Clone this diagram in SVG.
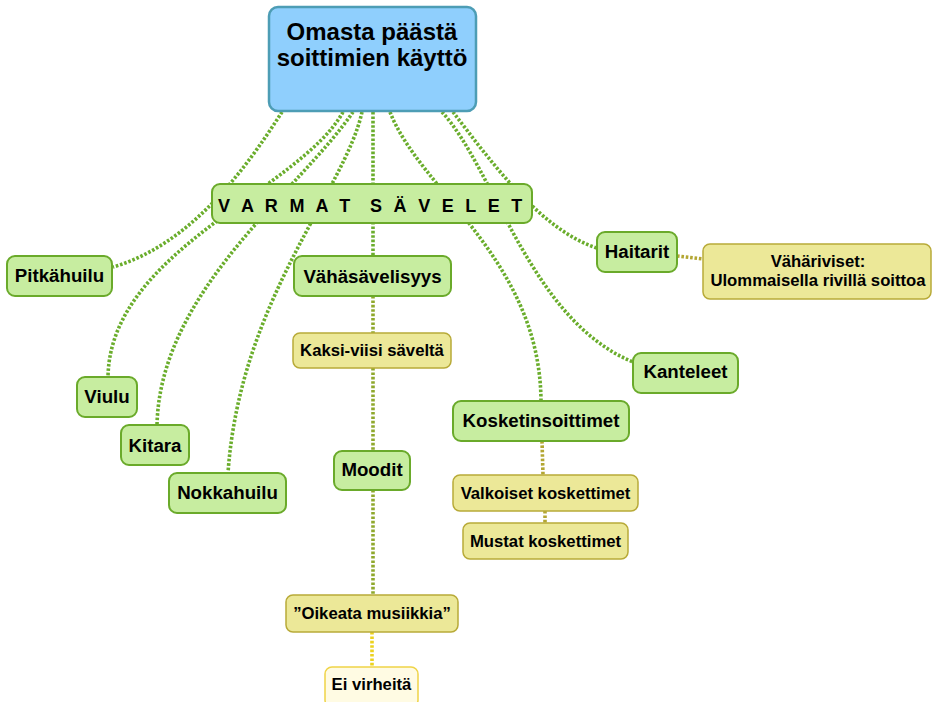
<svg xmlns="http://www.w3.org/2000/svg" width="932" height="702" viewBox="0 0 932 702">
<style>
text{font-family:"Liberation Sans",Arial,sans-serif;font-weight:bold;fill:#000;text-anchor:middle}
.g rect{fill:#c7eda0;stroke:#6aaa2a;stroke-width:2}
.y rect{fill:#ece898;stroke:#b8aa38;stroke-width:1.5}
.lbl{font-size:18.7px}
.sm{font-size:16.7px}
.c{fill:none;stroke-width:3.6;stroke-dasharray:2.6 1.8}
.cg{stroke:#6aad2c}
.cm{stroke:#8fa82c}
.co{stroke:#b3a632}
.cy{stroke:#ecd21e}
</style>
<rect width="932" height="702" fill="#fff"/>
<g id="connectors">
<path class="c cg" d="M282,112 C245,170 190,245 113,267"/>
<path class="c cg" d="M343,112 C300,190 110,250 108,377"/>
<path class="c cg" d="M353,112 C300,190 160,290 157,425"/>
<path class="c cg" d="M362,112 C345,190 240,300 228,473"/>
<path class="c cg" d="M373,112 L373,256"/>
<path class="c cg" d="M390,112 C420,190 540,260 541,401"/>
<path class="c cg" d="M442,112 C495,170 530,320 633,362"/>
<path class="c cg" d="M453,112 C490,160 540,230 597,248"/>
<path class="c cm" d="M373,296 L373,333"/>
<path class="c cm" d="M373,368 L373,451"/>
<path class="c cm" d="M373,490 L373,595"/>
<path class="c cy" d="M372,632 L372,667"/>
<path class="c co" d="M542,441 L543,475"/>
<path class="c co" d="M545,511 L545,523"/>
<path class="c co" d="M677,256 L703,259"/>
</g>
<g id="root">
<rect x="269" y="7" width="207" height="104" rx="9" fill="#8fcffd" stroke="#4d9db5" stroke-width="2.5"/>
<text x="372" y="40" font-size="24">Omasta päästä</text>
<text x="372" y="66" font-size="24">soittimien käyttö</text>
</g>
<g id="varmat" class="g">
<rect x="212" y="184" width="320" height="39" rx="8"/>
<text x="218" y="212" font-size="18" letter-spacing="3.3" style="text-anchor:start">V A R M A T <tspan dx="8">S Ä V E L E T</tspan></text>
</g>
<g id="pitkahuilu" class="g"><rect x="7" y="256" width="105" height="40" rx="8"/><text class="lbl" x="59.5" y="282">Pitkähuilu</text></g>
<g id="viulu" class="g"><rect x="77" y="377" width="60" height="40" rx="8"/><text class="lbl" x="107" y="403">Viulu</text></g>
<g id="kitara" class="g"><rect x="121" y="425" width="68" height="40" rx="8"/><text class="lbl" x="155" y="452">Kitara</text></g>
<g id="nokkahuilu" class="g"><rect x="169" y="473" width="117" height="40" rx="8"/><text class="lbl" x="227.5" y="499">Nokkahuilu</text></g>
<g id="vahasavelisyys" class="g"><rect x="294" y="256" width="157" height="40" rx="8"/><text class="lbl" x="372.5" y="283">Vähäsävelisyys</text></g>
<g id="kaksiviisi" class="y"><rect x="293" y="333" width="158" height="35" rx="7"/><text class="sm" x="372" y="356">Kaksi-viisi säveltä</text></g>
<g id="moodit" class="g"><rect x="334" y="451" width="76" height="39" rx="8"/><text class="lbl" x="372" y="476">Moodit</text></g>
<g id="oikeata" class="y"><rect x="286" y="595" width="172" height="37" rx="7"/><text class="sm" x="372" y="619">”Oikeata musiikkia”</text></g>
<g id="eivirheita"><rect x="325" y="667" width="93" height="40" rx="7" fill="#fffbe3" stroke="#efd447" stroke-width="1.5"/><text class="sm" x="371.5" y="690">Ei virheitä</text></g>
<g id="kosketinsoittimet" class="g"><rect x="453" y="401" width="176" height="40" rx="8"/><text class="lbl" x="541" y="427">Kosketinsoittimet</text></g>
<g id="valkoiset" class="y"><rect x="453" y="475" width="185" height="36" rx="7"/><text class="sm" x="545.5" y="499">Valkoiset koskettimet</text></g>
<g id="mustat" class="y"><rect x="463" y="523" width="165" height="36" rx="7"/><text class="sm" x="545.5" y="547">Mustat koskettimet</text></g>
<g id="haitarit" class="g"><rect x="597" y="232" width="80" height="40" rx="8"/><text class="lbl" x="637" y="258">Haitarit</text></g>
<g id="vahariviset" class="y"><rect x="703" y="244" width="228" height="55" rx="7"/><text class="sm" x="818" y="267">Vähäriviset:</text><text class="sm" x="818" y="286">Ulommaisella rivillä soittoa</text></g>
<g id="kanteleet" class="g"><rect x="633" y="353" width="105" height="40" rx="8"/><text class="lbl" x="685.5" y="378">Kanteleet</text></g>
</svg>
